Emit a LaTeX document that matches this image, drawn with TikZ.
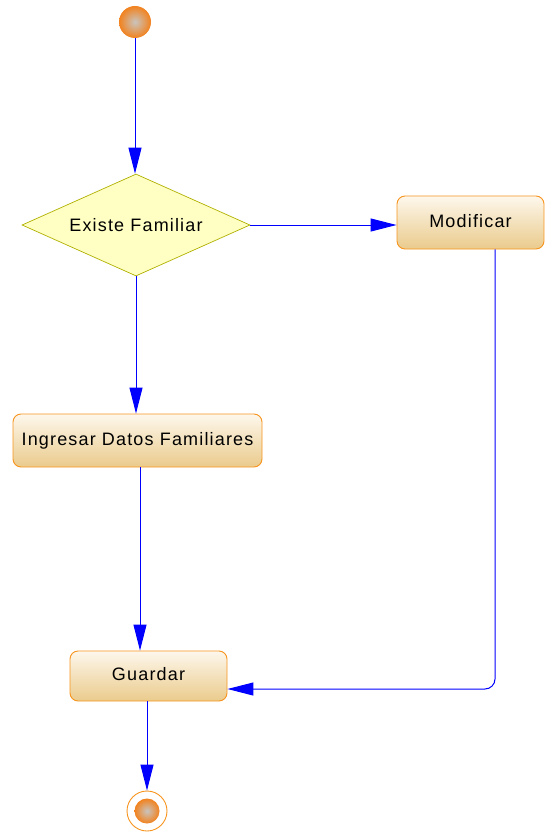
\documentclass[tikz,border=0pt]{standalone}
\usepackage{fontspec}
\setmainfont{Liberation Sans}[LetterSpace=6.5]
\usetikzlibrary{shapes.geometric, arrows.meta, calc}

\definecolor{boxline}{HTML}{F7941D}
\definecolor{boxlight}{HTML}{FDF7EC}
\definecolor{boxdark}{HTML}{EACB8C}
\definecolor{condfill}{HTML}{FFFFC4}
\definecolor{condline}{HTML}{B0B000}
\definecolor{ballout}{HTML}{F2821E}
\definecolor{ballin}{HTML}{C9C4BE}

\begin{document}
\begin{tikzpicture}[
        x=1pt, y=-1pt,
        every node/.style={font=\fontsize{18}{21}\selectfont},
        action/.style={draw=boxline, rounded corners=8pt, line width=0.9pt,
            top color=boxlight, bottom color=boxdark, inner sep=0pt},
        decision/.style={diamond, aspect=2.235, draw=condline, fill=condfill, line width=0.7pt,
            minimum width=228pt, minimum height=102pt, inner sep=0pt},
        ball/.style={circle, inner color=ballin, outer color=ballout, inner sep=0pt},
        flow/.style={draw=blue, line width=1pt, -{Triangle[length=26pt, width=13pt]}}
    ]
        \useasboundingbox (0,0) rectangle (544,834);

        % Start
        \node[ball, minimum size=32pt] (inicio) at (135,22) {};

        % Decision
        \node[decision] (cond) at (136,225) {Existe Familiar};

        % Actions
        \node[action, minimum width=147pt, minimum height=53pt] (modificar) at (470.5,222.5) {};
        \node at ([yshift=1pt]modificar.center) {Modificar};
        \node[action, minimum width=249pt, minimum height=53pt] (ingresar) at (137.5,440.5) {Ingresar Datos Familiares};
        \node[action, minimum width=157pt, minimum height=50pt] (guardar) at (148.5,676) {};
        \node at ([yshift=2pt]guardar.center) {Guardar};

        % End
        \node[circle, draw=boxline, fill=white, line width=0.9pt, minimum size=40pt, inner sep=0pt] (fin) at (147,811) {};
        \node[ball, minimum size=25pt] (finball) at (fin) {};

        % Flows
        \draw[flow] (inicio) -- (inicio |- cond.north);
        \draw[flow] (cond.east) -- (cond.east -| modificar.west);
        \draw[flow] (cond.south) -- (cond.south |- ingresar.north);
        \draw[flow] ([xshift=2.5pt]ingresar.south) -- ([xshift=2.5pt]ingresar.south |- guardar.north);
        \draw[flow] (fin |- guardar.south) -- (fin.north);
        \draw[flow, rounded corners=10pt] ([xshift=24.5pt]modificar.south) |- ([yshift=-13pt]guardar.east);
\end{tikzpicture}
\end{document}
